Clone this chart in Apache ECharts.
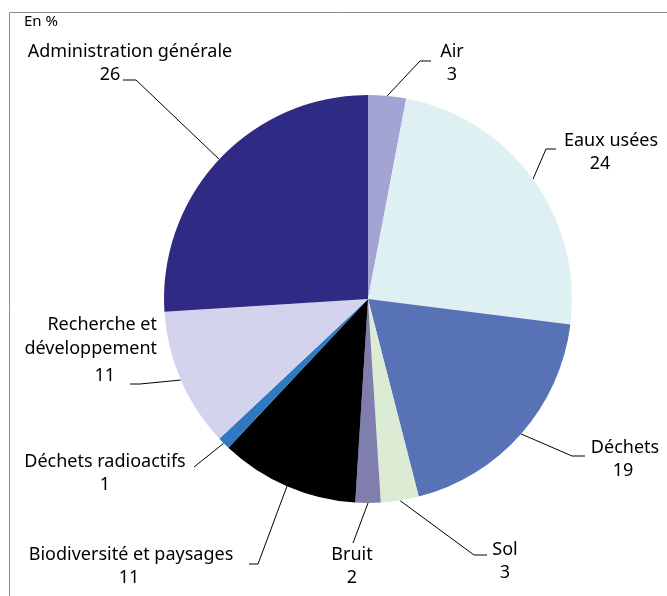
<!DOCTYPE html>
<html>
<head>
<meta charset="utf-8">
<script src="https://cdn.jsdelivr.net/npm/echarts@6/dist/echarts.min.js"></script>
<style>
  html, body { margin: 0; padding: 0; background: #ffffff; }
  #chart { width: 667px; height: 596px; }
</style>
</head>
<body>
<div id="chart"></div>
<script>
// data, clockwise from 12 o'clock
const categories = ['Air', 'Eaux usées', 'Déchets', 'Sol', 'Bruit',
  'Biodiversité et paysages', 'Déchets radioactifs', 'Recherche et développement', 'Administration générale'];
const values = [3, 24, 19, 3, 2, 11, 1, 11, 26];
const colors = ['#a3a3d4', '#dff0f3', '#5872b6', '#dcebd4', '#807daf',
  '#000000', '#2e79c0', '#d3d3ee', '#2f2a84'];

// where each label sits + the elbow of its leader line (shift = how far the number sits left of the name)
const labelPos = [
  { x: 452, y: 40, align: 'center', shift: 0, line: [[420, 61], [431, 61]] },
  { x: 611, y: 129, align: 'center', shift: 11, line: [[546, 149], [556, 149]] },
  { x: 625, y: 436, align: 'center', shift: 2, line: [[572, 456], [585, 456]] },
  { x: 505, y: 538, align: 'center', shift: 0, line: [[474, 555], [487, 555]] },
  { x: 352, y: 543, align: 'center', shift: 0, line: [[353, 543]] },
  { x: 131, y: 543, align: 'center', shift: 2, line: [[258, 564], [249, 564]] },
  { x: 105, y: 450, align: 'center', shift: 0, line: [[194, 467]] },
  { x: 157, y: 313, align: 'right', shift: 0, line: [[140, 384], [130, 384]] },
  { x: 130, y: 40, align: 'center', shift: 20, line: [[136, 80], [123, 80]] }
];

const chart = echarts.init(document.getElementById('chart'));

chart.setOption({
  animation: false,
  textStyle: { fontFamily: 'Noto Sans' },
  graphic: [
    {
      type: 'rect',
      shape: { x: 9.5, y: 12.5, width: 700, height: 700 },
      style: { fill: 'none', stroke: '#8a8a8a', lineWidth: 1 },
      silent: true
    },
    {
      type: 'text',
      left: 24, top: 14,
      style: { text: 'En %', fontSize: 15, fill: '#000', fontFamily: 'Noto Sans' }
    }
  ],
  series: [
    {
      type: 'pie',
      center: [368, 299],
      radius: [0, 204],
      startAngle: 90,
      clockwise: true,
      data: categories.map((name, i) => ({
        name,
        value: values[i],
        itemStyle: { color: colors[i] },
        label: i === 7 ? {} : {
          rich: {
            v: { fontSize: 18, lineHeight: 23, color: '#000', fontFamily: 'Noto Sans',
                 padding: [0, labelPos[i].shift * 2, 0, 0] }
          }
        }
      })),
      label: {
        show: true,
        position: 'outside',
        overflow: 'none',
        edgeDistance: 0,
        color: '#000',
        fontSize: 18,
        lineHeight: 23,
        fontFamily: 'Noto Sans',
        formatter: (p) => {
          if (p.dataIndex === 7) return '{a|Recherche et}\n{a|développement}\n{b|' + p.value + '}';
          return p.name + '\n{v|' + p.value + '}';
        },
        rich: {
          a: { fontSize: 18, lineHeight: 24, color: '#000', fontFamily: 'Noto Sans', align: 'right' },
          b: { fontSize: 18, lineHeight: 30, color: '#000', fontFamily: 'Noto Sans', align: 'right', padding: [0, 42, 0, 0] },
          v: { fontSize: 18, lineHeight: 23, color: '#000', fontFamily: 'Noto Sans' }
        }
      },
      labelLine: {
        show: true,
        length: 10,
        length2: 10,
        lineStyle: { color: '#000', width: 1 }
      },
      labelLayout: (params) => {
        const L = labelPos[params.dataIndex];
        const start = params.labelLinePoints ? params.labelLinePoints[0] : L.line[0];
        return {
          x: L.x,
          y: L.y,
          width: 300,
          align: L.align,
          verticalAlign: 'top',
          labelLinePoints: [start].concat(L.line)
        };
      }
    }
  ]
});
</script>
</body>
</html>
